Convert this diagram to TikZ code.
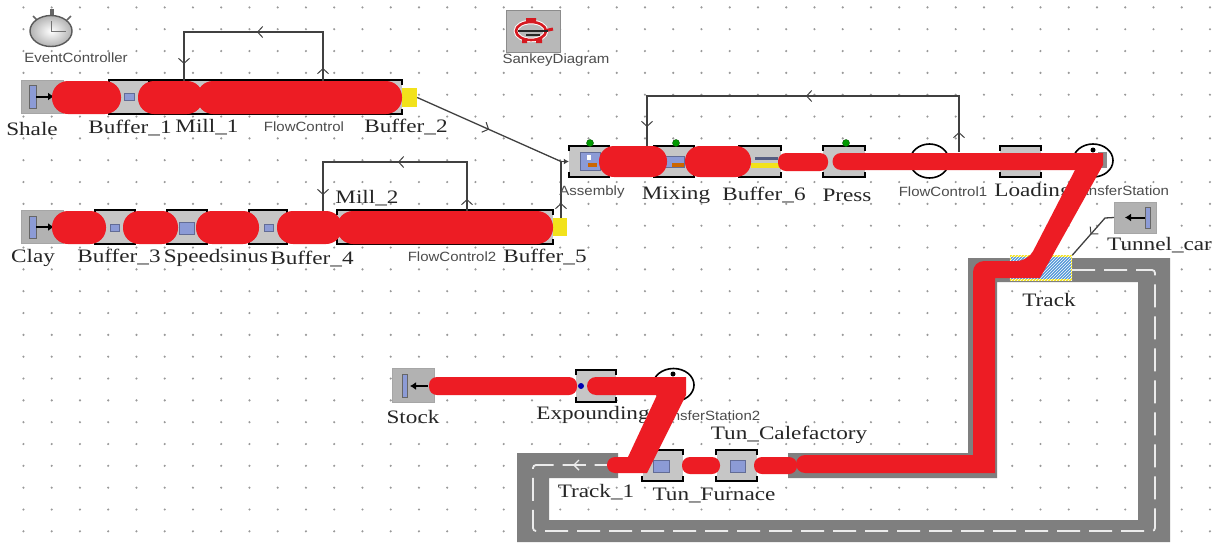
\documentclass[tikz,border=0pt]{standalone}
\usepackage{fontspec}
\usetikzlibrary{arrows.meta,decorations.markings,patterns,calc,shapes.geometric}
\newfontfamily\lblserif[FakeStretch=1.22]{Liberation Serif}
\newfontfamily\lblsans[FakeStretch=1.12]{Liberation Sans}
\definecolor{flowred}{HTML}{ED1C24}
\definecolor{boxgray}{HTML}{C6C6C6}
\definecolor{roadgray}{HTML}{7F7F7F}
\definecolor{iconblue}{HTML}{8C9BD6}
\definecolor{wiregray}{HTML}{404040}
\definecolor{sigyellow}{HTML}{F2E21B}
\tikzset{
  dotmark/.style={fill=black!40,draw=none},
  serif/.style={font=\lblserif\fontsize{19}{22}\selectfont,text=black!85,inner sep=0pt},
  sans/.style={font=\lblsans\fontsize{13.4}{15}\selectfont,text=black!70,inner sep=0pt},
  srcbox/.style={fill=boxgray!90!black,draw=black!35,line width=.8pt,inner sep=0pt},
  convbox/.style={fill=boxgray,draw=none,inner sep=0pt},
  bracket/.style={draw=black,line width=1.7pt},
  iconsq/.style={fill=iconblue,draw=iconblue!70!black,line width=.4pt,inner sep=0pt},
  yellowport/.style={fill=sigyellow,draw=none,inner sep=0pt},
  ringnode/.style={ellipse,fill=white,draw=black,line width=1.6pt,inner sep=0pt},
  greendot/.style={circle,fill=green!60!black,draw=green!35!black,line width=.4pt,minimum size=7pt,inner sep=0pt},
  wire/.style={draw=wiregray,line width=1.3pt},
  barbs/.style={postaction={decorate},decoration={markings,
    mark=at position #1 with {\arrow{Straight Barb[length=5pt,width=11pt,line width=1pt]}}}},
  barbs3/.style n args={3}{postaction={decorate},decoration={markings,
    mark=at position #1 with {\arrow{Straight Barb[length=5pt,width=11pt,line width=1pt]}},
    mark=at position #2 with {\arrow{Straight Barb[length=5pt,width=11pt,line width=1pt]}},
    mark=at position #3 with {\arrow{Straight Barb[length=5pt,width=11pt,line width=1pt]}}}},
  flowblob/.style={fill=flowred,draw=none,rounded corners=#1},
  flowband/.style={fill=flowred,draw=none},
  flowcap/.style={draw=flowred,line cap=round},
  road/.style={fill=roadgray,draw=none},
  roadline/.style={draw=black!8,line width=1.8pt,rounded corners=3pt,dash pattern=on 23pt off 9pt},
  srcarrow/.style={draw=black,line width=2pt,-{Latex[length=6pt,width=8pt]}},
  srcbar/.style={fill=iconblue,draw=black!60,line width=.5pt},
}
\newcommand{\convnode}[5]{%
  \node[convbox,minimum width=#4pt,minimum height=#5pt] (#1) at (#2,#3) {};
  \draw[bracket] ($(#1.north west)+(0,5)$) -- (#1.north west) -- (#1.north east) -- ($(#1.north east)+(0,5)$);
  \draw[bracket] ($(#1.south west)+(0,-5)$) -- (#1.south west) -- (#1.south east) -- ($(#1.south east)+(0,-5)$);
}
\begin{document}
\begin{tikzpicture}[x=1pt,y=-1pt]
\useasboundingbox (0,0) rectangle (1215,542);
\fill[white] (0,0) rectangle (1215,542);
% grid
\foreach \i in {0,...,42}{\foreach \j in {0,...,24}{
  \fill[dotmark] ({23.45+28.25*\i},{7.4+21.83*\j}) circle (1.2);}}
% road
\fill[road] (618,453) -- (517,453) -- (517,542) -- (1170,542) -- (1170,258) -- (968,258) -- (968,453) -- (788,453) -- (788,478) -- (997,478) -- (997,282) -- (1138,282) -- (1138,520) -- (549,520) -- (549,478) -- (618,478) -- cycle;
\coordinate (roadA) at (1072,270); \coordinate (roadB) at (1155,270); \coordinate (roadC) at (1155,531);
\coordinate (roadD) at (533,531); \coordinate (roadE) at (533,465); \coordinate (roadF) at (618,465);
\draw[roadline] (roadA) -- (roadB) -- (roadC) -- (roadD) -- (roadE) -- (roadF);
\coordinate (roadG) at (586,465); \coordinate (roadH) at (573,465);
\draw[draw=black!8,line width=1.4pt,-{Straight Barb[length=5pt,width=10pt]}] (roadG) -- (roadH);
% clock
\fill[black!60] (50,9) rectangle (54,15);
\draw[black!60,line width=1.6pt] (33,16) -- (37,20) (71,16) -- (67,20);
\node[ellipse,draw=black!65,line width=1.4pt,inner color=white,outer color=black!30,minimum width=42pt,minimum height=31pt,inner sep=0pt] (clock) at (51,31) {};
\draw[black!55,line width=1pt] (clock.center) -- (66,31) (clock.center) -- (51,21);
\node[sans] (evlabel) at (76,58) {EventController};
% sankey
\node[fill=black!28,draw=black!45,line width=.8pt,minimum width=54pt,minimum height=42pt,inner sep=0pt] (sankey) at (533,31) {};
\draw[white,line width=4.5pt] (531,31) ellipse (15 and 9);
\draw[flowred!90!black,line width=2.6pt] (531,31) ellipse (15 and 9);
\draw[flowred!90!black,line width=3pt] (544,31) -- (553,29);
\fill[flowred!90!black] (526,18) rectangle (536,22) (522,38) rectangle (527,43) (536,38) rectangle (542,43);
\draw[black!85,line width=1.6pt] (518,31) -- (548,31) (526,35) -- (540,35);
\node[sans] (sklabel) at (556,60) {SankeyDiagram};
% row 1
\node[srcbox,minimum width=42pt,minimum height=33pt] (shale) at (42,96.5) {};
\fill[srcbar] (29,85) rectangle (36,108);
\draw[srcarrow] (36,96.5) -- (54,96.5);
\convnode{b1}{129}{97}{40}{33}
\convnode{mill1}{171}{97}{40}{33}
\convnode{fc0}{293}{97}{218}{33}
\node[iconsq,minimum width=10pt,minimum height=7pt] (b1ic) at (129,97) {};
\node[yellowport,minimum width=15pt,minimum height=19pt] (y2) at (409.5,97.5) {};
% row 2
\node[srcbox,minimum width=42pt,minimum height=33pt] (clay) at (42,227) {};
\fill[srcbar] (29,216) rectangle (36,238);
\draw[srcarrow] (36,227) -- (54,227);
\convnode{b3}{115}{227}{39}{33}
\convnode{spd}{187}{227}{39}{33}
\convnode{b4}{268}{227}{38}{33}
\convnode{mill2}{445}{227}{216}{33}
\node[iconsq,minimum width=9pt,minimum height=7pt] (b3ic) at (115,228) {};
\node[iconsq,minimum width=15pt,minimum height=12pt] (spdic) at (187,228) {};
\node[iconsq,minimum width=9pt,minimum height=7pt] (b4ic) at (269,228) {};
\node[yellowport,minimum width=14pt,minimum height=18pt] (y5) at (560,227) {};
% row 3
\convnode{asm}{589}{161.5}{40}{31}
\convnode{mix}{674}{161.5}{40}{31}
\convnode{b6}{760}{161.5}{42}{31}
\convnode{press}{844}{161.5}{42}{31}
\convnode{loading}{1020.5}{161.5}{41}{31}
\node[greendot] (g1) at (590,143) {};
\node[greendot] (g2) at (676,143) {};
\node[greendot] (g3) at (846,143) {};
\node[iconsq,minimum width=20pt,minimum height=18pt] (asmic) at (590,161) {};
\fill[white] (587,155) rectangle (591,160);
\fill[orange!80!black] (588,163) rectangle (597,167);
\node[iconsq,minimum width=20pt,minimum height=11pt] (mixic) at (674,162) {};
\fill[orange!80!black] (672,163) rectangle (684,167);
\fill[sigyellow] (751,163) rectangle (780,168);
\fill[iconblue!60!black] (755,157) rectangle (778,160);
\node[ringnode,minimum width=39pt,minimum height=34pt] (fc1) at (929.5,161) {};
\node[ringnode,minimum width=40pt,minimum height=33pt] (ts1) at (1093,160.5) {};
\fill[black!45] (1098,152) rectangle (1107,168);
\fill[black] (1093,150) circle (2.5);
% tunnel car + track
\node[srcbox,minimum width=42pt,minimum height=31pt] (tunnel) at (1135.5,217.5) {};
\fill[srcbar] (1145,207) rectangle (1150,228);
\draw[srcarrow] (1145,217.5) -- (1125,217.5);
\node[draw=sigyellow,line width=1.4pt,fill=cyan!60!blue!70,minimum width=61pt,minimum height=24pt,inner sep=0pt] (track) at (1041,268) {};
\fill[pattern=north east lines,pattern color=white] (track.south west) rectangle (track.north east);
% lower row
\node[srcbox,minimum width=42pt,minimum height=34pt] (stock) at (413,385) {};
\fill[srcbar] (402,374) rectangle (407,397);
\draw[srcarrow] (428,386) -- (410,386);
\convnode{exp}{596}{386}{40}{31}
\node[circle,fill=blue!70!black,minimum size=6pt,inner sep=0pt] (expic) at (581,386) {};
\node[ringnode,minimum width=41pt,minimum height=33pt] (ts2) at (673.5,385) {};
\fill[black] (673,374) circle (2.5);
\convnode{furn}{662.5}{465.5}{40}{30}
\convnode{cale}{736.5}{465.5}{40}{30}
\node[iconsq,minimum width=16pt,minimum height=12pt] (furnic) at (661,466) {};
\node[iconsq,minimum width=15pt,minimum height=12pt] (caleic) at (737.5,466) {};
% wires
\coordinate (fb1a) at (323,82); \coordinate (fb1b) at (323,32); \coordinate (fb1c) at (184,32); \coordinate (fb1d) at (184,82);
\draw[wire,barbs3={14pt}{116pt}{221pt}] (fb1a) -- (fb1b) -- (fb1c) -- (fb1d);
\coordinate (fb2a) at (467,212); \coordinate (fb2b) at (467,162); \coordinate (fb2c) at (323,162); \coordinate (fb2d) at (323,212);
\draw[wire,barbs3={13pt}{119pt}{227pt}] (fb2a) -- (fb2b) -- (fb2c) -- (fb2d);
\coordinate (fb3a) at (959,152); \coordinate (fb3b) at (959,96); \coordinate (fb3c) at (647,96); \coordinate (fb3d) at (647,146);
\draw[wire,barbs3={20pt}{209pt}{399pt}] (fb3a) -- (fb3b) -- (fb3c) -- (fb3d);
\coordinate (asmin) at (561,161.5);
\draw[wire,barbs=.5] (y2.east) -- (asmin);
\draw[wire,-{Latex[length=5pt,width=6pt]}] (asmin) -- (asm.west);
\coordinate (y5up) at (561,218);
\draw[wire,barbs=15pt] (y5up) -- (asmin);
\coordinate (tunA) at (1105,218);
\draw[wire,barbs=31pt] (tunnel.west) -- (tunA) -- (track.north east);
% labels
\node[serif] (lshale) at (32,129) {Shale};
\node[serif] (lb1) at (130,128) {Buffer\_1};
\node[serif] (lm1) at (207,127) {Mill\_1};
\node[sans] (lfc) at (304,127) {FlowControl};
\node[serif] (lb2) at (406,127) {Buffer\_2};
\node[serif] (lm2) at (367,198) {Mill\_2};
\node[serif] (lclay) at (33,258) {Clay};
\node[serif] (lb3) at (119,257) {Buffer\_3};
\node[serif] (lspd) at (216,258) {Speedsinus};
\node[serif] (lb4) at (312,259) {Buffer\_4};
\node[sans] (lfc2) at (452,257) {FlowControl2};
\node[serif] (lb5) at (545,257) {Buffer\_5};
\node[sans] (lasm) at (592,192) {Assembly};
\node[serif] (lmix) at (676,195) {Mixing};
\node[serif] (lb6) at (764,195) {Buffer\_6};
\node[serif] (lpress) at (847,195) {Press};
\node[sans] (lfc1) at (943,192) {FlowControl1};
\node[serif] (lload) at (1033,192) {Loading};
\node[sans] (lts) at (1118,191) {TransferStation};
\node[serif] (ltun) at (1159.5,245) {Tunnel\_car};
\node[serif] (ltrack) at (1049,300) {Track};
\node[serif] (lstock) at (413,417) {Stock};
\node[serif] (lexp) at (593,415) {Expounding};
\node[sans] (lts2) at (705,416) {TransferStation2};
\node[serif] (lcale) at (789,435) {Tun\_Calefactory};
\node[serif] (ltr1) at (596,492) {Track\_1};
\node[serif] (lfur) at (714,495) {Tun\_Furnace};
% red flows, row 1
\fill[flowblob=16] (52,81) rectangle (121,114);
\fill[flowblob=16] (138,81) rectangle (203,114);
\fill[flowblob=16] (197,81) rectangle (402,114);
% row 2
\fill[flowblob=16] (52,211) rectangle (106,244);
\fill[flowblob=16] (123,211) rectangle (178,244);
\fill[flowblob=16] (196,211) rectangle (259,244);
\fill[flowblob=16] (277,211) rectangle (342,244);
\fill[flowblob=16] (337,211) rectangle (553,244);
% row 3
\fill[flowblob=15] (599,146) rectangle (667,177);
\fill[flowblob=15] (685,146) rectangle (751,177);
\fill[flowblob=8] (778,153) rectangle (828,171);
\fill[flowband] (841,153) -- (1103,153) -- (1103,165) -- (1040,278) -- (995,278) -- (995,473) -- (805,473) -- (805,455) -- (973,455) -- (973,275) [rounded corners=11] -- (973,261) -- (1028,261) [sharp corners] -- (1075,170) -- (841,170) -- cycle;
\draw[flowcap,line width=17pt] (841,161.5) -- (846,161.5);
\draw[flowcap,line width=18pt] (805,464) -- (812,464);
% lower flows
\fill[flowblob=8] (429,377) rectangle (577,395);
\draw[flowcap,line width=18pt] (596,386) -- (604,386);
\fill[flowband] (596,377) -- (686,377) -- (686,395) -- (647,473) -- (615,473) -- (615,457) -- (628,457) -- (657,395) -- (596,395) -- cycle;
\draw[flowcap,line width=16pt] (615,465) -- (618,465);
\fill[flowblob=8] (682,457) rectangle (720,474);
\fill[flowblob=8] (754,457) rectangle (797,474);
\end{tikzpicture}
\end{document}
